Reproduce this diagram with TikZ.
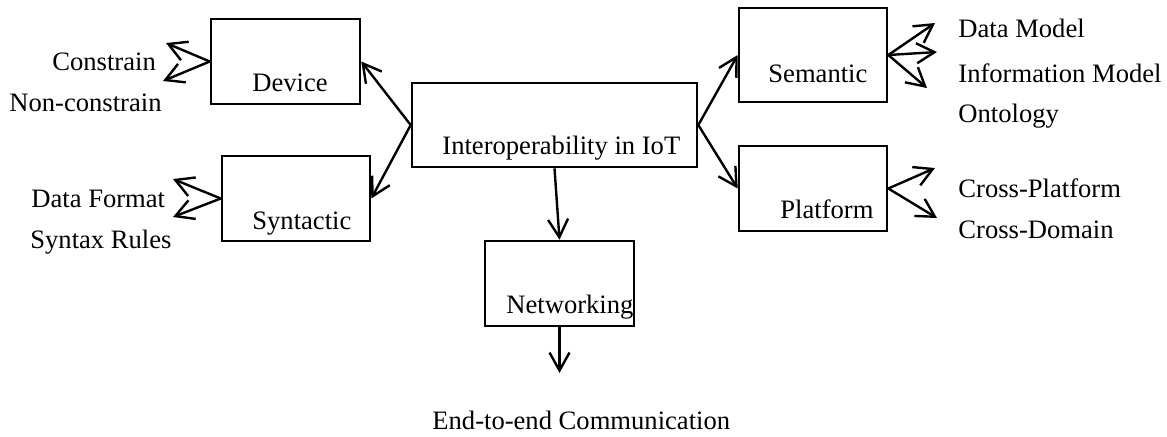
\documentclass[tikz,border=0pt]{standalone}
\usepackage{fontspec}
\setmainfont{Liberation Serif}
\usetikzlibrary{arrows.meta}
\begin{document}
\begin{tikzpicture}[x=0.5pt, y=-0.5pt,
    box/.style={draw, line width=1.3pt, inner sep=0pt},
    lbl/.style={anchor=base west, inner sep=0pt, font=\fontsize{13.3}{16}\selectfont},
    arr/.style={line width=1.2pt, -{Straight Barb[length=9pt, width=10pt]}}]
    \useasboundingbox (0,0) rectangle (1167,436);
    % boxes
    \node[box, minimum width=149*0.5pt, minimum height=85*0.5pt] (dev) at (285.5,61.5) {};
    \node[box, minimum width=148*0.5pt, minimum height=85*0.5pt] (syn) at (296,198.5) {};
    \node[box, minimum width=285*0.5pt, minimum height=84*0.5pt] (iot) at (554.5,125) {};
    \node[box, minimum width=149*0.5pt, minimum height=85*0.5pt] (net) at (559.5,283.5) {};
    \node[box, minimum width=148*0.5pt, minimum height=94*0.5pt] (sem) at (813,55) {};
    \node[box, minimum width=148*0.5pt, minimum height=85*0.5pt] (plat) at (813,188.5) {};
    % box texts
    \node[lbl] (dev-t) at (252,91) {Device};
    \node[lbl] (syn-t) at (252,229) {Syntactic};
    \node[lbl] (iot-t) at (442,154) {Interoperability in IoT};
    \node[lbl] (net-t) at (506,313) {Networking};
    \node[lbl] (sem-t) at (768,82) {Semantic};
    \node[lbl] (plat-t) at (780,218) {Platform};
    % outer labels
    \node[lbl] (con) at (52,70) {Constrain};
    \node[lbl] (ncon) at (9,111) {Non-constrain};
    \node[lbl] (fmt) at (31,207) {Data Format};
    \node[lbl] (rul) at (30,248) {Syntax Rules};
    \node[lbl] (dm) at (958,37) {Data Model};
    \node[lbl] (im) at (958,82) {Information Model};
    \node[lbl] (ont) at (958,122) {Ontology};
    \node[lbl] (cp) at (958,197) {Cross-Platform};
    \node[lbl] (cd) at (958,238) {Cross-Domain};
    \node[lbl] (e2e) at (432,429) {End-to-end Communication};
    % arrow ends
    \coordinate (con-a) at (166,43);
    \coordinate (ncon-a) at (163,81);
    \coordinate (fmt-a) at (173,179);
    \coordinate (rul-a) at (173,217);
    \coordinate (dm-a) at (935,23);
    \coordinate (im-a) at (937,52);
    \coordinate (ont-a) at (927,88);
    \coordinate (cp-a) at (935,168);
    \coordinate (cd-a) at (937,218);
    \coordinate (e2e-a) at (559.5,373);
    % main arrows
    \draw[arr] (iot.west) -- (dev.east);
    \draw[arr] (iot.west) -- (syn.east);
    \draw[arr] (iot.east) -- (sem.west);
    \draw[arr] (iot.east) -- (plat.west);
    \draw[arr] (iot.south) -- (net.north);
    \draw[arr] (net.south) -- (e2e-a);
    % sub arrows
    \foreach \a in {con-a, ncon-a} \draw[arr] (dev.west) -- (\a);
    \foreach \a in {fmt-a, rul-a} \draw[arr] (syn.west) -- (\a);
    \foreach \a in {dm-a, im-a, ont-a} \draw[arr] (sem.east) -- (\a);
    \foreach \a in {cp-a, cd-a} \draw[arr] (plat.east) -- (\a);
\end{tikzpicture}
\end{document}
